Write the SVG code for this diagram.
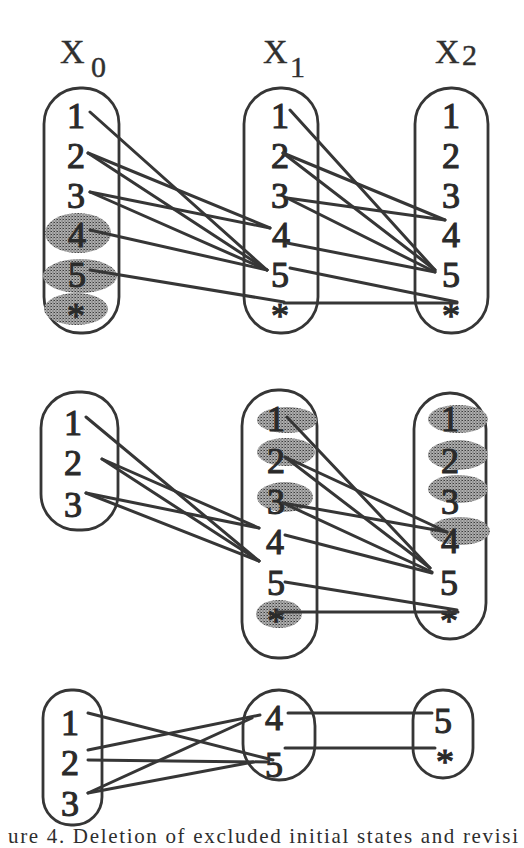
<svg xmlns="http://www.w3.org/2000/svg" width="524" height="848" viewBox="0 0 524 848">
<defs>
<pattern id="stip" width="3" height="3" patternUnits="userSpaceOnUse">
<rect width="3" height="3" fill="#b0b0b0"/>
<rect x="0" y="0" width="1" height="1" fill="#3e3e3e"/>
<rect x="1.5" y="1.5" width="1" height="1" fill="#4e4e4e"/>
<rect x="2" y="0" width="1" height="1" fill="#7a7a7a"/>
</pattern>
</defs>
<style>
.box{fill:none;stroke:#363636;stroke-width:2.8}
.sh{fill:url(#stip)}
.d{font-family:"Liberation Serif","Times New Roman",serif;font-size:36px;fill:#2a2a2a;stroke:#2a2a2a;stroke-width:1.1;text-anchor:middle}
.h{font-family:"Liberation Serif","Times New Roman",serif;font-size:34px;fill:#303030;stroke:#303030;stroke-width:0.4}
.s{font-family:"Liberation Serif","Times New Roman",serif;font-size:30px;fill:#303030;stroke:#303030;stroke-width:0.4}
.cap{font-family:"Liberation Serif","Times New Roman",serif;font-size:21px;fill:#2e2e2e}
#edges line{stroke:#363636;stroke-width:3;stroke-linecap:round}
</style>
<rect width="524" height="848" fill="#fff"/>

<g id="headings">
<text class="h" x="60" y="63">X</text><text class="s" x="91" y="77">0</text>
<text class="h" x="263" y="63">X</text><text class="s" x="290" y="77">1</text>
<text class="h" x="435" y="63">X</text><text class="s" x="462" y="65">2</text>
</g>

<!-- Panel 1 -->
<g id="p1x0">
<rect class="box" x="44" y="88" width="75" height="245" rx="36"/>
<ellipse class="sh" cx="78" cy="233" rx="33" ry="20"/>
<ellipse class="sh" cx="80" cy="276" rx="37" ry="17"/>
<ellipse class="sh" cx="76" cy="309" rx="32" ry="16"/>
<text class="d" x="76" y="128">1</text>
<text class="d" x="76" y="168">2</text>
<text class="d" x="76" y="208">3</text>
<text class="d" x="77" y="247">4</text>
<text class="d" x="77" y="287">5</text>
<text class="d" x="76" y="328">*</text>
</g>
<g id="p1x1">
<rect class="box" x="244" y="88" width="74" height="245" rx="36"/>
<text class="d" x="280" y="128">1</text>
<text class="d" x="280" y="168">2</text>
<text class="d" x="280" y="208">3</text>
<text class="d" x="281" y="247">4</text>
<text class="d" x="280" y="287">5</text>
<text class="d" x="280" y="328">*</text>
</g>
<g id="p1x2">
<rect class="box" x="415" y="88" width="73" height="245" rx="36"/>
<text class="d" x="451" y="128">1</text>
<text class="d" x="451" y="168">2</text>
<text class="d" x="451" y="208">3</text>
<text class="d" x="451" y="247">4</text>
<text class="d" x="451" y="287">5</text>
<text class="d" x="451" y="328">*</text>
</g>

<!-- Panel 2 -->
<g id="p2x0">
<rect class="box" x="41" y="392" width="77" height="138" rx="36"/>
<text class="d" x="73" y="435">1</text>
<text class="d" x="73" y="475">2</text>
<text class="d" x="73" y="517">3</text>
</g>
<g id="p2x1">
<rect class="box" x="242" y="390" width="75" height="268" rx="36"/>
<ellipse class="sh" cx="287" cy="420" rx="30" ry="13"/>
<ellipse class="sh" cx="286" cy="452" rx="29" ry="14"/>
<ellipse class="sh" cx="285" cy="497" rx="28" ry="15"/>
<ellipse class="sh" cx="279" cy="614" rx="23" ry="14"/>
<text class="d" x="276" y="431">1</text>
<text class="d" x="276" y="473">2</text>
<text class="d" x="276" y="514">3</text>
<text class="d" x="275" y="554">4</text>
<text class="d" x="276" y="595">5</text>
<text class="d" x="276" y="633">*</text>
</g>
<g id="p2x2">
<rect class="box" x="414" y="393" width="72" height="246" rx="36"/>
<ellipse class="sh" cx="458" cy="419" rx="30" ry="14"/>
<ellipse class="sh" cx="458" cy="455" rx="30" ry="15"/>
<ellipse class="sh" cx="458" cy="489" rx="30" ry="14"/>
<ellipse class="sh" cx="460" cy="531" rx="30" ry="14"/>
<text class="d" x="450" y="431">1</text>
<text class="d" x="450" y="473">2</text>
<text class="d" x="450" y="514">3</text>
<text class="d" x="450" y="553">4</text>
<text class="d" x="449" y="595">5</text>
<text class="d" x="449" y="633">*</text>
</g>

<!-- Panel 3 -->
<g id="p3x0">
<rect class="box" x="43" y="690" width="59" height="135" rx="28"/>
<text class="d" x="70" y="735">1</text>
<text class="d" x="70" y="775">2</text>
<text class="d" x="70" y="816">3</text>
</g>
<g id="p3x1">
<rect class="box" x="243" y="690" width="72" height="90" rx="36"/>
<text class="d" x="274" y="730">4</text>
<text class="d" x="274" y="777">5</text>
</g>
<g id="p3x2">
<rect class="box" x="413" y="690" width="60" height="88" rx="30"/>
<text class="d" x="443" y="733">5</text>
<text class="d" x="445" y="774">*</text>
</g>

<g id="edges">
<!-- panel 1 X0 -> X1 -->
<line x1="90" y1="112" x2="267" y2="270"/>
<line x1="88" y1="153" x2="270" y2="228"/>
<line x1="88" y1="153" x2="267" y2="270"/>
<line x1="90" y1="192" x2="270" y2="228"/>
<line x1="90" y1="192" x2="267" y2="270"/>
<line x1="90" y1="230" x2="267" y2="270"/>
<line x1="90" y1="270" x2="284" y2="302"/>
<!-- panel 1 X1 -> X2 -->
<line x1="290" y1="110" x2="435" y2="270"/>
<line x1="283" y1="153" x2="445" y2="220"/>
<line x1="283" y1="153" x2="435" y2="270"/>
<line x1="287" y1="198" x2="445" y2="220"/>
<line x1="287" y1="198" x2="435" y2="272"/>
<line x1="287" y1="243" x2="435" y2="272"/>
<line x1="290" y1="268" x2="457" y2="302"/>
<line x1="284" y1="303" x2="457" y2="303"/>
<!-- panel 2 X0 -> X1 -->
<line x1="86" y1="417" x2="259" y2="561"/>
<line x1="102" y1="459" x2="259" y2="528"/>
<line x1="102" y1="459" x2="259" y2="561"/>
<line x1="86" y1="493" x2="259" y2="528"/>
<line x1="86" y1="493" x2="259" y2="561"/>
<!-- panel 2 X1 -> X2 -->
<line x1="287" y1="417" x2="430" y2="568"/>
<line x1="285" y1="457" x2="447" y2="532"/>
<line x1="285" y1="457" x2="430" y2="568"/>
<line x1="283" y1="503" x2="447" y2="532"/>
<line x1="283" y1="503" x2="432" y2="572"/>
<line x1="285" y1="535" x2="432" y2="573"/>
<line x1="285" y1="582" x2="457" y2="610"/>
<line x1="277" y1="612" x2="458" y2="612"/>
<!-- panel 3 -->
<line x1="88" y1="713" x2="273" y2="760"/>
<line x1="88" y1="750" x2="260" y2="715"/>
<line x1="88" y1="760" x2="267" y2="762"/>
<line x1="88" y1="793" x2="252" y2="718"/>
<line x1="88" y1="793" x2="253" y2="762"/>
<line x1="288" y1="713" x2="432" y2="713"/>
<line x1="285" y1="748" x2="435" y2="748"/>
</g>

<text class="cap" x="8" y="843" textLength="510" lengthAdjust="spacing">ure 4. Deletion of excluded initial states and revisi</text>
</svg>
